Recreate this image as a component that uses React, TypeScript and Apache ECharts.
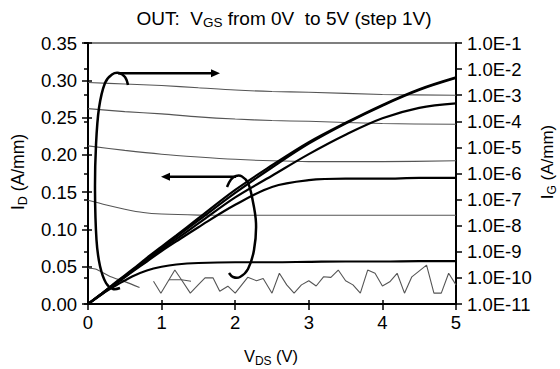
import React, { useEffect, useRef } from "react";
import * as echarts from "echarts";

// ---------- data ----------
const idVds = [0, 0.2, 0.4, 0.6, 0.8, 1.0, 1.2, 1.5, 2.0, 2.5, 3.0, 3.5, 4.0, 4.5, 5.0];
const idVgs0 = [0, 0, 0, 0, 0, 0, 0, 0, 0, 0, 0, 0, 0, 0, 0];
const idVgs1 = [0, 0.014, 0.026, 0.037, 0.045, 0.05, 0.053, 0.055, 0.056, 0.056, 0.0565, 0.057, 0.057, 0.0575, 0.0575];
const idVgs2 = [0, 0.014, 0.029, 0.043, 0.057, 0.071, 0.084, 0.103, 0.133, 0.157, 0.166, 0.168, 0.168, 0.169, 0.169];
const idVgs3 = [0, 0.015, 0.029, 0.044, 0.058, 0.073, 0.087, 0.108, 0.143, 0.172, 0.201, 0.227, 0.249, 0.263, 0.269];
const idVgs4 = [0, 0.015, 0.03, 0.045, 0.06, 0.075, 0.09, 0.112, 0.149, 0.183, 0.215, 0.242, 0.266, 0.287, 0.303];
const idVgs5 = [0, 0.015, 0.031, 0.046, 0.062, 0.077, 0.092, 0.115, 0.153, 0.186, 0.217, 0.243, 0.267, 0.288, 0.304];

const igVds = [0, 0.5, 1, 1.5, 2, 2.5, 3, 4, 5];
const igVgs5 = [3.06e-3, 2.69e-3, 2.35e-3, 1.93e-3, 1.58e-3, 1.39e-3, 1.3e-3, 1.07e-3, 1.0e-3];
const igVgs4 = [3.06e-4, 2.35e-4, 1.93e-4, 1.48e-4, 1.22e-4, 1.07e-4, 1.0e-4, 8.2e-5, 7.7e-5];
const igVgs3 = [1.14e-5, 7.7e-6, 5.5e-6, 4.3e-6, 3.5e-6, 3.06e-6, 2.86e-6, 2.86e-6, 3.06e-6];

const igVds2 = [0, 0.25, 0.5, 0.75, 1, 1.5, 2, 3, 4, 5];
const igVgs2 = [9.4e-8, 6.2e-8, 4.3e-8, 3.2e-8, 2.8e-8, 2.55e-8, 2.5e-8, 2.5e-8, 2.5e-8, 2.5e-8];

const igVds1 = [0, 0.1, 0.3, 0.5, 0.7];
const igVgs1 = [2.35e-10, 2.2e-10, 1.14e-10, 7.2e-11, 4.3e-11];
const igVds1b = [1.1, 1.27, 1.4];
const igVgs1b = [8.5e-11, 8.5e-11, 7.4e-11];

const igVds0 = [0.89, 0.99, 1.18, 1.27, 1.39, 1.5, 1.59, 1.7, 1.79, 1.9, 2.0, 2.17, 2.29, 2.38, 2.5, 2.6, 2.7, 2.8, 2.9, 3.0, 3.1, 3.2, 3.3, 3.4, 3.5, 3.6, 3.7, 3.8, 3.9, 4.0, 4.1, 4.2, 4.3, 4.4, 4.6, 4.7, 4.8, 4.9, 5.0];
const igVgs0 = [7.4e-11, 2.6e-11, 2.0e-10, 8.5e-11, 2.6e-11, 5.5e-11, 1.0e-10, 1.0e-10, 3.1e-11, 4.8e-11, 2.6e-11, 1.05e-10, 7.8e-11, 9.5e-11, 2.6e-11, 1.5e-10, 5.4e-11, 2.6e-11, 5.4e-11, 7.8e-11, 4.9e-11, 1.1e-10, 1.05e-10, 2.0e-10, 7.8e-11, 5.4e-11, 2.6e-11, 2.0e-10, 1.5e-10, 4.9e-11, 7.1e-11, 1.5e-10, 2.6e-11, 1.1e-10, 3.1e-10, 2.6e-11, 2.6e-11, 1.5e-10, 5.4e-11];

const titleText = "{n|OUT:  V}{s|GS}{n| from 0V  to 5V (step 1V)}";
const xName = "{n|V}{s|DS}{n| (V)}";
const yLeftName = "{n|I}{s|D}{n| (A/mm)}";
const yRightName = "{n|I}{s|G}{n| (A/mm)}";

const FONT = "'Liberation Sans', Arial, sans-serif";

const zip = (xs: number[], ys: number[]) => xs.map((x, i) => [x, ys[i]]);

const richStyle = (size: number, subSize: number) => ({
  n: { fontSize: size, fontFamily: FONT, color: "#000", lineHeight: 22, verticalAlign: "middle" },
  s: { fontSize: subSize, fontFamily: FONT, color: "#000", lineHeight: 13, verticalAlign: "bottom" },
});

export default function App() {
  const ref = useRef<HTMLDivElement>(null);
  useEffect(() => {
    if (!ref.current) return;
    const chart = echarts.init(ref.current, undefined, { renderer: "svg" });
    const axisLine = { show: true, onZero: false, lineStyle: { color: "#000", width: 2 } };
    const tickOut = { show: true, length: 6, lineStyle: { color: "#000", width: 1.5 } };
    const tickIn = { show: true, inside: true, length: 4, lineStyle: { color: "#000", width: 1.5 } };
    const label = { color: "#000", fontSize: 18.5, fontFamily: FONT };
    const idSeries = [idVgs0, idVgs1, idVgs2, idVgs3, idVgs4, idVgs5].map((d, i) => ({
      name: "ID VGS=" + i,
      type: "line",
      xAxisIndex: 0,
      yAxisIndex: 0,
      data: zip(idVds, d),
      showSymbol: false,
      smooth: 0.35,
      lineStyle: { color: "#000", width: 2.2 },
      z: 3,
    }));
    const igLine = (name: string, xs: number[], ys: number[], smooth: number | boolean) => ({
      name,
      type: "line",
      xAxisIndex: 0,
      yAxisIndex: 1,
      data: zip(xs, ys),
      showSymbol: false,
      smooth,
      lineStyle: { color: "#555", width: 1.1 },
      z: 2,
    });
    const option = {
      animation: false,
      textStyle: { fontFamily: FONT },
      grid: { left: 88, right: 104, top: 43, bottom: 65, show: true, borderColor: "#000", borderWidth: 1.2 },
      xAxis: [
        {
          type: "value", position: "bottom", min: 0, max: 5, interval: 1,
          axisLine, axisTick: tickOut, axisLabel: { ...label, margin: 9 }, splitLine: { show: false },
        },
        {
          type: "value", position: "bottom", min: 0, max: 5, interval: 1,
          axisLine: { show: false }, axisTick: tickIn, axisLabel: { show: false }, splitLine: { show: false },
        },
      ],
      yAxis: [
        {
          type: "value", position: "left", min: 0, max: 0.35, interval: 0.05,
          axisLine, axisTick: tickOut,
          axisLabel: { ...label, margin: 11, formatter: (v: number) => v.toFixed(2) },
          splitLine: { show: false },
        },
        {
          type: "log", logBase: 10, position: "right", min: 1e-11, max: 1e-1, interval: 1,
          axisLine, axisTick: tickOut,
          axisLabel: {
            ...label, margin: 11,
            formatter: (v: number) => "1.0E" + Math.round(Math.log10(v)),
          },
          splitLine: { show: false }, minorTick: { show: false },
        },
        {
          type: "value", position: "left", min: 0, max: 0.35, interval: 0.05,
          axisLine: { show: false }, axisTick: tickIn, axisLabel: { show: false }, splitLine: { show: false },
        },
        {
          type: "log", logBase: 10, position: "right", min: 1e-11, max: 1e-1, interval: 1,
          axisLine: { show: false }, axisTick: tickIn, axisLabel: { show: false }, splitLine: { show: false },
        },
      ],
      series: [
        igLine("IG VGS=5", igVds, igVgs5, 0.3),
        igLine("IG VGS=4", igVds, igVgs4, 0.3),
        igLine("IG VGS=3", igVds, igVgs3, 0.3),
        igLine("IG VGS=2", igVds2, igVgs2, 0.3),
        igLine("IG VGS=1", igVds1, igVgs1, 0.3),
        igLine("IG VGS=1 b", igVds1b, igVgs1b, false),
        igLine("IG VGS=0", igVds0, igVgs0, false),
        ...idSeries,
      ],
      graphic: [
        {
          type: "text", x: 284, y: 18, z: 10,
          style: { text: titleText, rich: richStyle(19, 13.5), align: "center", verticalAlign: "middle" },
        },
        {
          type: "text", x: 271, y: 356, z: 10,
          style: { text: xName, rich: richStyle(16.5, 12), align: "center", verticalAlign: "middle" },
        },
        {
          type: "text", x: 18, y: 172, rotation: Math.PI / 2, z: 10,
          style: { text: yLeftName, rich: richStyle(17.5, 12.5), align: "center", verticalAlign: "middle" },
        },
        {
          type: "text", x: 547, y: 162, rotation: Math.PI / 2, z: 10,
          style: { text: yRightName, rich: richStyle(17, 12), align: "center", verticalAlign: "middle" },
        },
        // left annotation loop with arrow to the right (IG -> right axis)
        {
          type: "polyline", z: 10,
          shape: {
            points: [[128, 85], [125, 77], [119, 73], [112, 74.5], [105, 83], [99, 108], [96, 145], [95, 190], [96.5, 240], [100, 266], [106, 283], [113, 289], [120, 288]],
            smooth: 0.35,
          },
          style: { stroke: "#000", lineWidth: 2.5, fill: null },
        },
        {
          type: "line", z: 10,
          shape: { x1: 118, y1: 73.3, x2: 213, y2: 73.3 },
          style: { stroke: "#000", lineWidth: 2.5 },
        },
        {
          type: "polygon", z: 10,
          shape: { points: [[211, 69.3], [220, 73.3], [211, 77.3]] },
          style: { fill: "#000" },
        },
        // right annotation loop with arrow to the left (ID -> left axis)
        {
          type: "polyline", z: 10,
          shape: {
            points: [[227, 187], [231, 179.5], [236, 176], [242, 176.5], [248, 183], [252, 197], [256, 223], [254, 250], [248, 269], [240, 277], [233, 277], [229, 273]],
            smooth: 0.35,
          },
          style: { stroke: "#000", lineWidth: 2.5, fill: null },
        },
        {
          type: "line", z: 10,
          shape: { x1: 168, y1: 176.7, x2: 236, y2: 176.7 },
          style: { stroke: "#000", lineWidth: 2.5 },
        },
        {
          type: "polygon", z: 10,
          shape: { points: [[170, 172.7], [161, 176.7], [170, 180.7]] },
          style: { fill: "#000" },
        },
      ],
    };
    chart.setOption(option as any);
    return () => chart.dispose();
  }, []);
  return (
    <div
      ref={ref}
      style={{ position: "fixed", left: 0, top: 0, width: 560, height: 369, background: "#fff" }}
    />
  );
}
